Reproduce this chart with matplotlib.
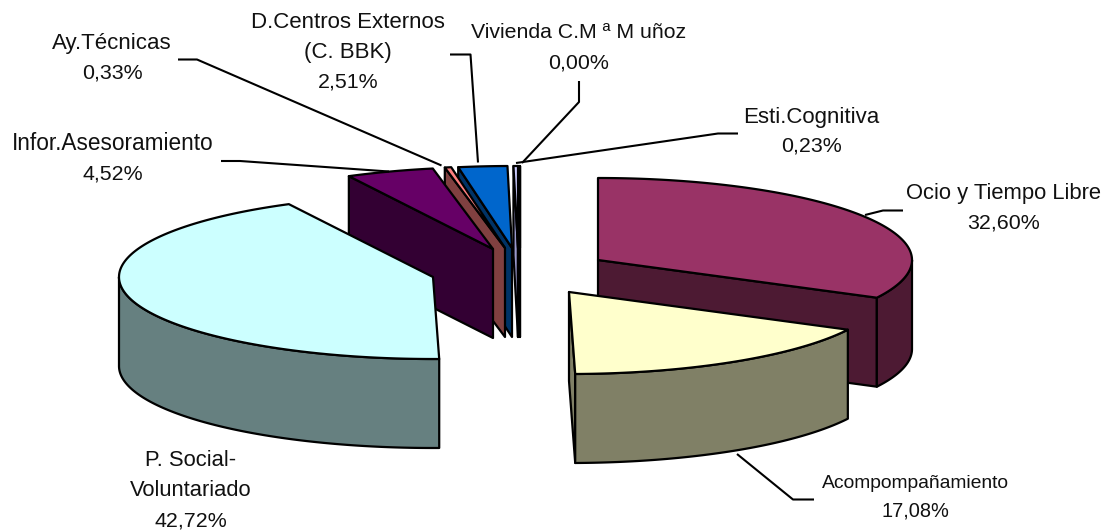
import numpy as np
import matplotlib
matplotlib.use("Agg")
import matplotlib.pyplot as plt
from matplotlib.patches import Polygon

# --- data ---
categories = ["Ocio y Tiempo Libre", "Acompompañamiento", "P. Social-\nVoluntariado",
              "Infor.Asesoramiento", "Ay.Técnicas", "D.Centros Externos\n(C. BBK)",
              "Esti.Cognitiva", "Vivienda C.M ª M uñoz"]
percentages = [32.60, 17.08, 42.72, 4.52, 0.33, 2.51, 0.23, 0.00]

# --- style and layout ---
top_colors = ["#993366", "#FFFFCC", "#CCFFFF", "#660066", "#FF8080", "#0066CC", "#CCCCFF", "#CCCCFF"]
side_colors = ["#4D1A33", "#808066", "#668080", "#330033", "#804040", "#003366", "#9999CC", "#666680"]
apexes = [(598, 260), (569, 292), (433, 277), (493, 249), (505, 248), (512, 248), (518, 248), (520, 248)]
paint_order = [6, 7, 5, 4, 3, 2, 0, 1]
RX, RY, DEPTH = 314, 82, 89
LW = 1.6

label_pos = [(1004, 194), (915, 484), (191, 460), (113, 144), (112, 43), (348, 23), (811, 117), (579, 33)]
label_size = [15.8, 13.9, 15.8, 16.3, 16.0, 16.0, 16.0, 15.3]
pct_size = [15.4, 14.4, 15.4, 15.4, 15.4, 15.4, 15.4, 15.4]
line_gap = [29, 27, 30.5, 30, 30, 29.5, 29, 30]
leaders = [
    [(903, 210.5), (883, 210.5), (865, 215)],
    [(814, 499.5), (793, 499.5), (737, 454)],
    [],
    [(221, 161), (240, 161), (389, 171.5)],
    [(178, 59.5), (197, 59.5), (441.5, 165.5)],
    [(450, 54.5), (470.5, 54.5), (478, 162.5)],
    [(738, 133.5), (718, 133.5), (516, 163)],
    [(579, 81), (579, 102), (522, 163)],
]

fig = plt.figure(figsize=(11.12, 5.31), dpi=100)
ax = fig.add_axes([0, 0, 1, 1])
ax.set_xlim(0, 1112)
ax.set_ylim(531, 0)
ax.axis("off")


def rim(apex, a0, a1):
    t = np.radians(np.linspace(a0, a1, max(2, int(abs(a1 - a0) * 2) + 2)))
    return np.column_stack([apex[0] + RX * np.sin(t), apex[1] - RY * np.cos(t)])


def poly(pts, color, z):
    ax.add_patch(Polygon(pts, closed=True, facecolor=color, edgecolor="black",
                         linewidth=LW, joinstyle="round", zorder=z))


down = np.array([0, DEPTH])
total = sum(percentages)
edges = np.concatenate([[0], np.cumsum(percentages)]) / total * 360

z = 2
for i in paint_order:
    a0, a1 = edges[i], edges[i + 1]
    apex = np.array(apexes[i], float)
    side = side_colors[i]
    # visible cut face at the start of the slice
    if np.sin(np.radians(a0)) < -1e-6:
        p = rim(apex, a0, a0)[0]
        poly([apex, p, p + down, apex + down], side, z)
    # visible cut face at the end of the slice
    if np.sin(np.radians(a1)) > -1e-6:
        p = rim(apex, a1, a1)[0]
        poly([apex, p, p + down, apex + down], side, z)
    # outer wall (front half of the ellipse only)
    lo, hi = max(a0, 90), min(a1, 270)
    if hi > lo:
        r = rim(apex, lo, hi)
        poly(np.vstack([r, (r + down)[::-1]]), side, z)
    # top face
    poly(np.vstack([[apex], rim(apex, a0, a1)]), top_colors[i], z + 0.5)
    z += 1

for name, pct, (x, y), size, psize, gap, lead in zip(categories, percentages, label_pos,
                                                     label_size, pct_size, line_gap, leaders):
    lines = name.split("\n") + [f"{pct:.2f}%".replace(".", ",")]
    for k, line in enumerate(lines):
        ax.text(x, y + k * gap, line, ha="center", va="center",
                fontsize=psize if k == len(lines) - 1 else size,
                family="Liberation Sans", color="#111111", zorder=30)
    if lead:
        ax.plot(*zip(*lead), color="black", lw=1.5, zorder=25, solid_capstyle="butt")

fig.savefig("out.png", dpi=100, facecolor="white")
